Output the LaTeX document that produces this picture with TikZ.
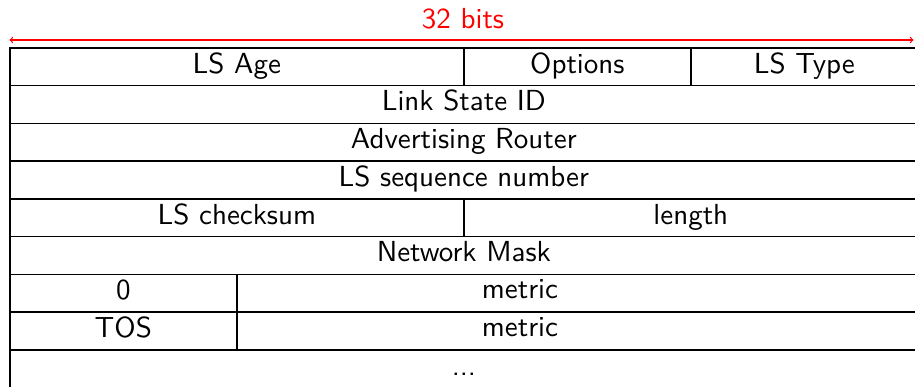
\documentclass[tikz,border=0pt]{standalone}
\usepackage{fontspec}
\newfontfamily\cellfont{lmsans10-regular.otf}
\usetikzlibrary{calc}
\begin{document}
\begin{tikzpicture}[x=1pt,y=-1pt,
  cell/.style={draw, line width=1.7pt, inner sep=0pt, anchor=north west,
    minimum height=37.75pt, text height=21pt, text depth=8.4pt,
    font=\cellfont\fontsize{29}{34}\selectfont},
  txt/.style={inner sep=0pt, text height=21pt, text depth=8.4pt,
    font=\cellfont\fontsize{29}{34}\selectfont},
  w/.style={minimum width=#1*28.375pt},
  bitsarrow/.style={red, line width=1.3pt, <->},
]
\useasboundingbox (0,0) rectangle (915,386);
% row 0
\node[cell,w=16] (age) at (9,47) {LS Age};
\node[cell,w=8] (opt) at (463,47) {Options};
\node[cell,w=8] (type) at (690,47) {LS Type};
% rows 1-3
\node[cell,w=32] (lsid) at (9,84.75) {Link State ID};
\node[cell,w=32] (adv) at (9,122.5) {Advertising Router};
\node[cell,w=32] (seq) at (9,160.25) {LS sequence number};
% row 4
\node[cell,w=16] (chk) at (9,198) {LS checksum};
\node[cell,w=16] (len) at (463,198) {length};
% row 5
\node[cell,w=32] (mask) at (9,235.75) {Network Mask};
% row 6
\node[cell,w=8] (zero) at (9,273.5) {0};
\node[cell,w=24] (m1box) at (236,273.5) {};
\node[txt] (m1) at (520,292.4) {metric};
% row 7
\node[cell,w=8] (tos) at (9,311.25) {TOS};
\node[cell,w=24] (m2box) at (236,311.25) {};
\node[txt] (m2) at (520,330.1) {metric};
% row 8
\node[cell,w=32] (dots) at (9,349) {...};
% bits arrow
\coordinate (aL) at (9.5,40);
\coordinate (aR) at (913.5,40);
\draw[bitsarrow] (aL) -- (aR);
\node[red, inner sep=0pt, anchor=base, font=\cellfont\fontsize{29}{34}\selectfont] (bits) at (463,28.3) {32 bits};
\end{tikzpicture}
\end{document}
